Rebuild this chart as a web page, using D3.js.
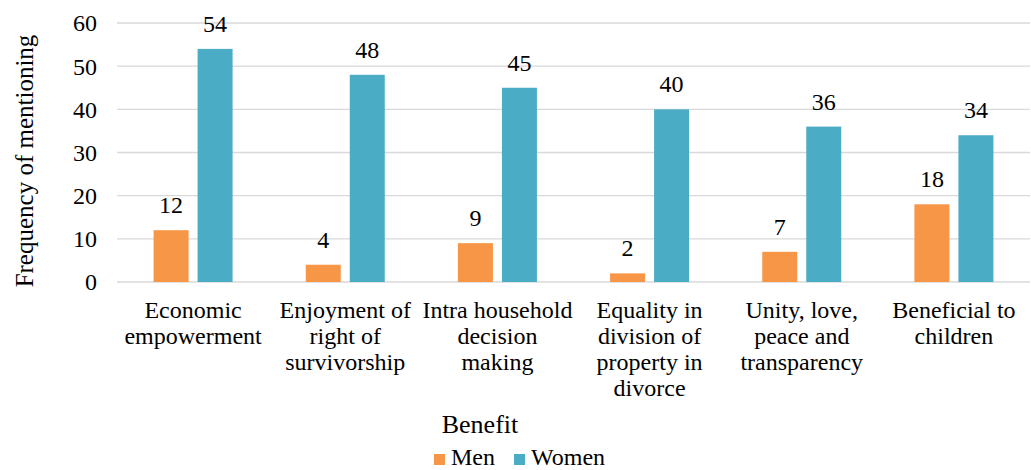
<!DOCTYPE html>
<html>
<head>
<meta charset="utf-8">
<script src="https://cdn.jsdelivr.net/npm/d3@7"></script>
</head>
<body style="margin:0">
<script>
var categories = [
  ["Economic", "empowerment"],
  ["Enjoyment of", "right of", "survivorship"],
  ["Intra household", "decision", "making"],
  ["Equality in", "division of", "property in", "divorce"],
  ["Unity, love,", "peace and", "transparency"],
  ["Beneficial to", "children"]
];
var men = [12, 4, 9, 2, 7, 18];
var women = [54, 48, 45, 40, 36, 34];
var seriesNames = ["Men", "Women"];
var yTicks = [0, 10, 20, 30, 40, 50, 60];

var W = 1031, H = 470;
var margin = {left: 117, right: 1, top: 23, bottom: 188};
var width = W - margin.left - margin.right;
var height = H - margin.top - margin.bottom;
var colors = ["#F79646", "#4BACC6"];

var svg = d3.select("body").append("svg")
  .attr("width", W).attr("height", H);
var g = svg.append("g")
  .attr("transform", "translate(" + margin.left + "," + margin.top + ")");

function times(sel, size) {
  return sel.attr("font-size", size + "px")
    .attr("font-family", "Liberation Serif")
    .style("font-family", "'Liberation Serif'");
}

var x = d3.scaleBand().domain(d3.range(categories.length)).range([0, width]);
var y = d3.scaleLinear().domain([0, 60]).range([height, 0]);

// gridlines
g.selectAll(".grid").data(yTicks).enter().append("line")
  .attr("x1", 0).attr("x2", width)
  .attr("y1", d => y(d)).attr("y2", d => y(d))
  .attr("stroke", "#d9d9d9").attr("stroke-width", 1.3);

// y tick labels
times(g.selectAll(".ytick").data(yTicks).enter().append("text")
  .attr("x", -20).attr("y", d => y(d)).attr("dy", "0.35em")
  .attr("text-anchor", "end"), 24)
  .text(d => d);

var barW = 35, gap = 9;
var data = categories.map((c, i) => ({i: i, vals: [men[i], women[i]]}));

var groups = g.selectAll(".cat").data(data).enter().append("g")
  .attr("transform", d => "translate(" + (x(d.i) + x.bandwidth() / 2) + ",0)");

groups.each(function(d) {
  var grp = d3.select(this);
  d.vals.forEach((v, s) => {
    var bx = s === 0 ? -(gap / 2 + barW) : gap / 2;
    grp.append("rect")
      .attr("x", bx).attr("width", barW)
      .attr("y", y(v)).attr("height", height - y(v))
      .attr("fill", colors[s]);
    times(grp.append("text")
      .attr("x", bx + barW / 2).attr("y", y(v) - 17)
      .attr("text-anchor", "middle"), 24)
      .text(v);
  });
});

// category labels
groups.each(function(d) {
  var t = times(d3.select(this).append("text")
    .attr("text-anchor", "middle")
    .attr("y", height + 36), 24);
  categories[d.i].forEach((line, k) => {
    t.append("tspan").attr("x", 0).attr("dy", k === 0 ? 0 : 26).text(line);
  });
});

// axis titles
times(svg.append("text")
  .attr("transform", "translate(33,161) rotate(-90)")
  .attr("text-anchor", "middle"), 25)
  .text("Frequency of mentioning");

times(svg.append("text")
  .attr("x", 480).attr("y", 433)
  .attr("text-anchor", "middle"), 26)
  .text("Benefit");

// legend
var legendX = [434, 514];
seriesNames.forEach((n, i) => {
  var lg = svg.append("g").attr("transform", "translate(" + legendX[i] + ",454)");
  lg.append("rect").attr("width", 11).attr("height", 11).attr("fill", colors[i]);
  times(lg.append("text").attr("x", 17).attr("y", 11), 24).text(n);
});
</script>
</body>
</html>
